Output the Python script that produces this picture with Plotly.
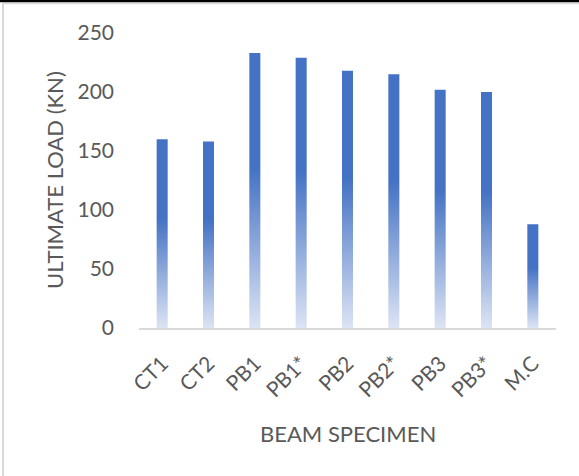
import plotly.graph_objects as go

categories = ["CT1", "CT2", "PB1", "PB1*", "PB2", "PB2*", "PB3", "PB3*", "M.C"]
ultimate_load = [160, 158, 233, 229, 218, 215, 202, 200, 88]
y_ticks = [0, 50, 100, 150, 200, 250]

W, H = 579, 476
ML, MR, MT, MB = 139, 23, 33, 148
PW, PH = W - ML - MR, H - MT - MB
BAR_HALF = 0.119
SOLID = "#4472C4"
LIGHT = "#DCE4F4"
GRAY_TXT = "#595959"
FONT = "Lato"

fig = go.Figure()
for i, v in enumerate(ultimate_load):
    x0, x1 = i - BAR_HALF, i + BAR_HALF
    fig.add_trace(go.Scatter(
        x=[x0, x1, x1, x0, x0],
        y=[0, 0, v, v, 0],
        mode="lines",
        line=dict(width=0, color=SOLID),
        fill="toself",
        fillgradient=dict(
            type="vertical",
            colorscale=[[0, LIGHT], [0.58, SOLID], [1, SOLID]],
        ),
        hoverinfo="skip",
        showlegend=False,
    ))

def px_x(X):
    return (X - ML) / PW

def px_y(Y):
    return (H - MB - Y) / PH

shapes = [
    dict(type="line", xref="paper", yref="paper", x0=px_x(3), x1=px_x(W + 5),
         y0=px_y(3.5), y1=px_y(3.5), line=dict(color="#D9D9D9", width=1.5)),
    dict(type="line", xref="paper", yref="paper", x0=px_x(3), x1=px_x(3),
         y0=px_y(3), y1=px_y(H + 5), line=dict(color="#D9D9D9", width=2)),
    dict(type="line", xref="paper", yref="paper", x0=px_x(-5), x1=px_x(W + 5),
         y0=px_y(1), y1=px_y(1), line=dict(color="#000000", width=2.5)),
]

fig.update_layout(
    width=W, height=H,
    margin=dict(l=ML, r=MR, t=MT, b=MB, pad=0),
    paper_bgcolor="white", plot_bgcolor="white",
    font=dict(family=FONT, color=GRAY_TXT, size=21),
    xaxis=dict(
        range=[-0.5, len(categories) - 0.5],
        tickmode="array",
        tickvals=list(range(len(categories))),
        ticktext=categories,
        tickangle=-45,
        showgrid=False, zeroline=False,
        showline=True, linecolor="#D9D9D9", linewidth=2,
        ticks="", ticklabelstandoff=13,
        tickfont=dict(size=21, color=GRAY_TXT, family=FONT),
        fixedrange=True,
    ),
    yaxis=dict(
        range=[0, 250],
        tickmode="array", tickvals=y_ticks,
        showgrid=False, zeroline=False, showline=False,
        ticks="", ticklabelstandoff=24,
        tickfont=dict(size=21, color=GRAY_TXT, family=FONT),
        fixedrange=True,
    ),
    shapes=shapes,
    annotations=[
        dict(text="BEAM SPECIMEN", xref="paper", yref="paper",
             x=0.5, y=px_y(433), xanchor="center", yanchor="middle",
             showarrow=False, font=dict(size=22, color=GRAY_TXT, family=FONT)),
        dict(text="ULTIMATE LOAD (KN)", xref="paper", yref="paper",
             x=px_x(54.5), y=0.5, xanchor="center", yanchor="middle",
             textangle=-90, showarrow=False,
             font=dict(size=22, color=GRAY_TXT, family=FONT)),
    ],
)

fig.write_html("out.html")
